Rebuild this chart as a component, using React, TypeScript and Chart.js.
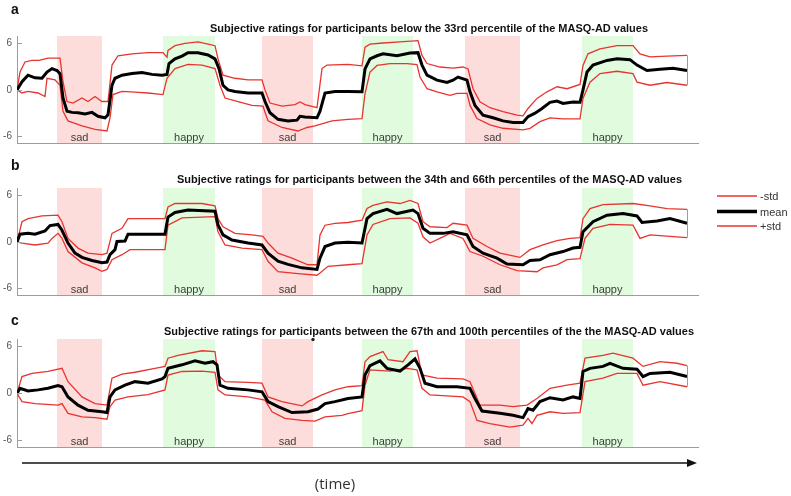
import React, { useEffect, useRef } from "react";
import { Chart, registerables } from "chart.js";

Chart.register(...registerables);

type Pts = [number, number][];

// time axis (arbitrary units) and shaded mood-induction blocks
const X_MAX = 681;
const Y_MIN = -6.85;
const Y_MAX = 6.95;
const yTicks = [-6, 0, 6];
const sadBlocks: [number, number][] = [[40, 85], [245, 296], [448, 503]];
const happyBlocks: [number, number][] = [[146, 198], [345, 396], [565, 616]];

const titleA = "Subjective ratings for participants below the 33rd percentile of the MASQ-AD values";
const titleB = "Subjective ratings for participants between the 34th and 66th percentiles of the MASQ-AD values";
const titleC = "Subjective ratings for participants between the 67th and 100th percentiles of the the MASQ-AD values";
const legendLabels = ["-std", "mean", "+std"];

// ---- panel a ----
const aMean: Pts = [[0,0],[5,1.05],[11,1.9],[18,1.55],[25,1.5],[30,2.3],[35,2.75],[40,2.5],[43,2.1],[46,-1.05],[50,-2.75],[55,-2.9],[61,-2.95],[68,-3.1],[75,-2.9],[81,-3.4],[88,-3.6],[91,-3.2],[95,0.6],[98,1.5],[105,1.9],[115,2.1],[125,2.25],[135,2.0],[145,1.9],[150,2.0],[152,3.4],[158,4.0],[165,4.35],[171,4.8],[181,4.8],[191,4.5],[198,4.0],[202,2.75],[206,0.6],[211,0],[218,-0.2],[231,-0.4],[245,-0.4],[248,-1.5],[253,-2.95],[261,-3.8],[271,-4.0],[280,-3.9],[283,-3.4],[288,-3.5],[300,-3.6],[303,-2.75],[308,-0.4],[318,-0.2],[331,-0.2],[345,-0.25],[348,2.7],[353,4.0],[360,4.4],[366,4.65],[380,4.4],[393,4.75],[401,4.8],[405,3.2],[410,1.9],[420,1.25],[430,0.95],[436,1.25],[441,1.65],[450,1.25],[453,-0.25],[458,-2.0],[466,-3.25],[476,-3.6],[486,-4.0],[496,-4.2],[506,-4.2],[511,-3.45],[518,-3.0],[525,-2.4],[533,-1.6],[540,-1.45],[546,-1.75],[556,-1.55],[563,-1.6],[566,0],[570,2.3],[576,3.2],[590,3.8],[600,4.0],[613,3.9],[620,3.2],[630,2.5],[643,2.65],[656,2.8],[670,2.5]];
const aPlus: Pts = [[0,0],[3,2.3],[8,3.6],[15,3.8],[22,3.8],[31,4.1],[43,4.1],[46,1.05],[50,-1.5],[56,-1.7],[65,-1.05],[71,-1.5],[78,-0.85],[85,-1.5],[91,-1.5],[95,3.2],[101,4.4],[115,4.65],[131,4.8],[146,4.8],[150,4.2],[151,5.1],[158,5.7],[168,6.0],[181,6.2],[191,5.9],[198,5.7],[201,4.0],[206,1.9],[218,1.5],[231,1.3],[245,1.3],[248,0],[253,-1.7],[265,-2.1],[278,-1.9],[283,-1.55],[288,-1.9],[300,-2.3],[305,2.75],[310,3.2],[331,3.3],[345,3.1],[348,5.5],[353,5.9],[366,6.05],[383,6.2],[401,6.35],[405,4.45],[410,3.4],[423,2.95],[436,2.8],[446,2.95],[451,2.7],[456,0.15],[463,-1.55],[473,-2.3],[486,-2.8],[500,-3.25],[506,-3.35],[511,-2.4],[520,-1.1],[530,-0.25],[540,0.4],[550,0.15],[563,0.7],[566,3.15],[571,4.65],[583,5.3],[600,5.7],[616,5.7],[623,4.65],[633,4.25],[650,4.35],[670,4.45]];
const aMinus: Pts = [[0,0],[5,-0.4],[11,-0.2],[21,-0.4],[28,-0.85],[30,1.5],[38,1.3],[43,0.6],[46,-2.75],[51,-4.0],[65,-4.65],[78,-5.1],[90,-5.3],[93,-3.6],[96,-0.6],[105,-0.2],[118,-0.3],[131,-0.4],[146,-0.6],[150,1.5],[158,2.75],[171,3.3],[185,3.2],[198,2.75],[203,0.6],[208,-1.05],[221,-1.5],[235,-2.0],[246,-2.1],[251,-4.0],[265,-4.85],[281,-5.3],[290,-4.85],[298,-4.65],[315,-4.0],[331,-3.8],[345,-3.7],[348,-0.5],[353,2.3],[360,3.15],[373,3.4],[390,3.4],[400,3.25],[403,1.65],[410,0.15],[420,-0.25],[433,-0.7],[440,-0.45],[450,-0.45],[453,-2.0],[460,-3.7],[473,-4.5],[486,-4.95],[506,-5.15],[513,-4.95],[523,-4.1],[533,-3.6],[546,-3.75],[563,-3.75],[566,-1.1],[573,1.0],[583,2.1],[600,2.4],[616,2.1],[620,1.0],[633,0.6],[650,0.95],[670,0.6]];

// ---- panel b ----
const bMean: Pts = [[0,0],[3,1.0],[11,1.1],[18,1.0],[28,1.4],[33,2.1],[41,2.25],[45,1.5],[51,-0.15],[58,-1.45],[65,-2.0],[75,-2.4],[85,-2.7],[90,-2.6],[93,-1.65],[98,-1.0],[100,0.05],[108,0.1],[111,1.0],[131,1.0],[148,1.0],[151,3.2],[158,3.8],[171,4.1],[198,3.95],[201,2.2],[206,0.9],[215,0.25],[231,-0.15],[245,-0.4],[251,-1.45],[261,-2.5],[271,-2.9],[285,-3.35],[300,-3.55],[303,-2.1],[308,-0.6],[318,-0.15],[331,-0.05],[345,-0.15],[350,3.0],[356,3.65],[370,4.2],[380,3.65],[396,4.1],[401,3.65],[406,1.75],[413,1.1],[426,1.1],[436,1.3],[450,0.9],[456,-0.6],[466,-1.45],[480,-2.1],[490,-2.85],[506,-2.95],[513,-2.4],[523,-2.3],[533,-1.65],[546,-1.25],[556,-0.8],[563,-0.7],[566,1.3],[576,2.6],[590,3.45],[606,3.65],[620,3.35],[625,2.5],[640,2.7],[653,3.0],[670,2.4]];
const bPlus: Pts = [[0,0],[5,2.6],[11,3.0],[25,3.35],[41,3.45],[45,2.6],[51,0.45],[61,-0.8],[71,-1.45],[85,-1.65],[90,-1.45],[95,1.1],[105,1.75],[111,3.0],[131,3.0],[148,3.0],[151,4.5],[158,4.95],[185,4.95],[198,4.65],[201,3.0],[206,1.95],[218,1.1],[235,0.9],[246,0.7],[251,-0.15],[261,-1.45],[275,-2.1],[291,-2.95],[300,-2.95],[303,0.9],[308,2.15],[318,2.4],[331,2.5],[345,2.8],[350,4.3],[356,4.7],[370,5.15],[383,4.95],[393,5.35],[401,4.95],[406,2.6],[413,1.95],[430,1.85],[436,2.4],[450,2.15],[456,0.45],[470,-0.6],[483,-1.45],[503,-2.0],[513,-1.0],[526,-0.4],[540,0.15],[553,0.45],[563,0.55],[566,3.0],[573,4.3],[586,4.8],[616,4.95],[633,4.65],[650,4.3],[670,4.2]];
const bMinus: Pts = [[0,0],[5,-0.15],[18,-0.4],[31,-0.15],[35,0.45],[41,1.1],[45,0.45],[51,-1.25],[65,-2.7],[78,-3.35],[85,-3.8],[90,-3.55],[95,-2.3],[105,-1.65],[113,-1.0],[131,-1.0],[148,-1.0],[151,2.15],[165,3.1],[198,3.25],[201,1.3],[208,-0.4],[225,-0.8],[245,-1.0],[251,-2.5],[261,-3.85],[281,-4.1],[300,-4.3],[303,-4.0],[311,-3.15],[331,-2.95],[345,-2.8],[350,0.9],[356,2.25],[373,3.0],[393,3.1],[401,2.4],[406,0.65],[413,-0.15],[426,0.65],[433,1.1],[446,0.45],[453,-1.25],[466,-1.85],[483,-2.95],[500,-3.7],[520,-3.85],[526,-3.35],[540,-2.95],[550,-2.3],[563,-2.15],[568,0.45],[576,1.75],[593,2.25],[616,2.15],[623,0.45],[633,0.9],[653,0.7],[670,0.55]];

// ---- panel c ----
const cMean: Pts = [[0,0],[3,0.65],[11,0.3],[21,0.45],[31,0.65],[41,1.0],[45,0.85],[51,-0.45],[61,-1.5],[71,-2.15],[85,-2.35],[90,-2.45],[93,-0.45],[98,0.45],[108,1.05],[118,1.5],[131,1.3],[145,1.85],[148,2.15],[151,3.2],[165,3.65],[178,4.15],[188,3.85],[196,4.05],[200,3.65],[203,1.05],[211,0.65],[231,0.45],[245,0.2],[251,-1.05],[261,-1.7],[275,-2.45],[291,-2.35],[301,-2.0],[308,-1.3],[318,-1.05],[331,-0.65],[345,-0.45],[348,2.35],[353,3.55],[363,4.15],[370,3.2],[383,2.85],[391,3.65],[398,4.4],[403,3.2],[408,1.3],[420,0.85],[440,0.85],[453,0.65],[458,-0.65],[465,-2.25],[483,-2.55],[496,-2.8],[506,-3.1],[511,-1.95],[516,-2.15],[523,-1.05],[533,-0.55],[546,-0.85],[556,-0.45],[563,-0.65],[566,2.8],[573,3.2],[586,3.45],[593,3.85],[606,3.2],[620,3.1],[626,2.15],[633,2.55],[653,2.7],[670,2.15]];
const cPlus: Pts = [[0,0],[5,2.15],[15,2.55],[31,2.8],[45,3.2],[51,1.5],[65,-0.45],[78,-1.3],[90,-1.5],[95,1.95],[105,2.45],[118,2.7],[138,3.2],[148,3.45],[151,4.5],[161,4.85],[185,5.45],[198,5.35],[201,2.35],[208,1.5],[231,1.4],[245,1.3],[251,-0.45],[265,-1.05],[285,-1.6],[291,-1.05],[305,-0.2],[318,0.45],[331,0.85],[345,1.0],[348,4.05],[353,4.7],[366,5.35],[371,4.3],[386,4.05],[393,5.35],[400,5.45],[405,2.35],[420,1.95],[446,1.85],[453,1.5],[463,-1.5],[483,-1.5],[496,-1.7],[510,-1.5],[520,-0.65],[533,0.65],[550,1.05],[563,1.3],[568,4.5],[586,4.85],[596,5.15],[616,4.5],[626,3.45],[643,4.05],[660,3.85],[670,3.55]];
const cMinus: Pts = [[0,0],[5,-1.05],[18,-1.3],[41,-1.5],[45,-1.3],[51,-2.55],[65,-3.0],[78,-3.1],[90,-3.3],[93,-1.7],[98,-0.85],[111,-0.45],[131,-0.15],[148,0.45],[151,2.35],[165,2.8],[185,2.85],[198,2.7],[201,0.45],[208,-0.2],[231,-0.45],[248,-0.85],[255,-2.35],[268,-3.2],[285,-3.45],[298,-3.55],[308,-3.0],[325,-2.8],[331,-2.6],[345,-2.2],[348,1.05],[353,3.0],[373,2.85],[390,3.2],[400,3.0],[405,0.65],[413,-0.2],[446,-0.45],[453,-1.05],[460,-3.45],[473,-3.85],[493,-4.3],[506,-4.05],[511,-3.2],[515,-3.85],[520,-2.8],[533,-2.35],[546,-2.55],[563,-2.45],[568,1.5],[586,1.95],[600,2.55],[620,2.55],[626,1.05],[643,1.5],[670,0.85]];

const FONT = '"Liberation Sans", Arial, Helvetica, sans-serif';
const RED = "#e8342f";
const AXIS = "#9c9c9c";

function Panel(props: { top: number; height: number; mean: Pts; plus: Pts; minus: Pts }) {
  const ref = useRef<HTMLCanvasElement | null>(null);
  useEffect(() => {
    if (!ref.current) return;
    const shade = {
      id: "shade",
      beforeDatasetsDraw(chart: any) {
        const { ctx, chartArea: ca, scales } = chart;
        const x = scales.x;
        ctx.save();
        const draw = (blocks: [number, number][], color: string, label: string) => {
          blocks.forEach(([s, e]) => {
            const x0 = x.getPixelForValue(s);
            const x1 = x.getPixelForValue(e);
            ctx.fillStyle = color;
            ctx.fillRect(x0, ca.top, x1 - x0, ca.bottom - ca.top);
            ctx.fillStyle = "#3c3c3c";
            ctx.font = "11px " + FONT;
            ctx.textAlign = "center";
            ctx.textBaseline = "alphabetic";
            ctx.fillText(label, (x0 + x1) / 2, ca.bottom - 2.5);
          });
        };
        draw(sadBlocks, "#fddcdc", "sad");
        draw(happyBlocks, "#e1fbdf", "happy");
        ctx.restore();
      },
      afterDraw(chart: any) {
        const { ctx, chartArea: ca, scales } = chart;
        const y = scales.y;
        const x = scales.x;
        ctx.save();
        ctx.strokeStyle = AXIS;
        ctx.lineWidth = 1;
        yTicks.forEach((v) => {
          const py = Math.round(y.getPixelForValue(v)) + 0.5;
          ctx.beginPath();
          ctx.moveTo(ca.left, py);
          ctx.lineTo(ca.left + 5, py);
          ctx.stroke();
        });
        const lp = props.plus[props.plus.length - 1];
        const lm = props.minus[props.minus.length - 1];
        const ex = Math.round(x.getPixelForValue(lp[0])) + 0.5;
        ctx.beginPath();
        ctx.moveTo(ex, y.getPixelForValue(lp[1]));
        ctx.lineTo(ex, y.getPixelForValue(lm[1]));
        ctx.stroke();
        ctx.restore();
      },
    };
    const toXY = (p: Pts) => p.map(([x, y]) => ({ x, y }));
    const chart = new Chart(ref.current, {
      type: "line",
      data: {
        datasets: [
          { label: "mean", data: toXY(props.mean), borderColor: "#000", borderWidth: 3, pointRadius: 0, tension: 0 },
          { label: "-std", data: toXY(props.minus), borderColor: RED, borderWidth: 1.3, pointRadius: 0, tension: 0 },
          { label: "+std", data: toXY(props.plus), borderColor: RED, borderWidth: 1.3, pointRadius: 0, tension: 0 },
        ],
      },
      options: {
        animation: false,
        responsive: false,
        devicePixelRatio: 1,
        layout: { padding: { top: 16, right: 2, left: 0, bottom: 0 } },
        plugins: { legend: { display: false }, tooltip: { enabled: false }, title: { display: false } },
        scales: {
          x: {
            type: "linear",
            min: 0,
            max: X_MAX,
            ticks: { display: false },
            grid: { display: true, drawOnChartArea: false, drawTicks: false },
            border: { display: true, color: AXIS, width: 1 },
            afterFit: (s: any) => {
              s.height = 3;
              s.paddingLeft = 0;
              s.paddingRight = 0;
            },
          },
          y: {
            type: "linear",
            min: Y_MIN,
            max: Y_MAX,
            afterBuildTicks: (s: any) => {
              s.ticks = yTicks.map((v) => ({ value: v }));
            },
            ticks: { color: "#555", font: { size: 10, family: FONT }, padding: 5 },
            grid: { display: true, drawOnChartArea: false, drawTicks: false },
            border: { display: true, color: AXIS, width: 1 },
            afterFit: (s: any) => {
              s.width = 17;
              s.paddingTop = 0;
              s.paddingBottom = 0;
            },
          },
        },
      },
      plugins: [shade],
    } as any);
    return () => chart.destroy();
  }, []);
  return (
    <canvas
      ref={ref}
      width={700}
      height={props.height}
      style={{ position: "absolute", left: 0, top: props.top, width: 700, height: props.height }}
    />
  );
}

export default function App() {
  const legendY = [196, 211.5, 226];
  return (
    <div style={{ position: "absolute", left: 0, top: 0, width: 791, height: 496, background: "#fff", overflow: "hidden" }}>
      <Panel top={20} height={126} mean={aMean} plus={aPlus} minus={aMinus} />
      <Panel top={172} height={126} mean={bMean} plus={bPlus} minus={bMinus} />
      <Panel top={323} height={127} mean={cMean} plus={cPlus} minus={cMinus} />
      <svg width={791} height={496} style={{ position: "absolute", left: 0, top: 0, pointerEvents: "none" }}>
        <g fontFamily={FONT} fontWeight="bold" fontSize="14" fill="#111">
          <text x={11} y={13.5}>a</text>
          <text x={11} y={169.5}>b</text>
          <text x={11} y={324.5}>c</text>
        </g>
        <g fontFamily={FONT} fontWeight="bold" fontSize="10" fill="#111" textAnchor="middle">
          <text x={429} y={32} textLength={438} lengthAdjust="spacingAndGlyphs">{titleA}</text>
          <text x={429.5} y={183} textLength={505} lengthAdjust="spacingAndGlyphs">{titleB}</text>
          <text x={429} y={335} textLength={530} lengthAdjust="spacingAndGlyphs">{titleC}</text>
        </g>
        <circle cx={313} cy={339.5} r={1.7} fill="#222" />
        {legendLabels.map((lab, i) => (
          <g key={lab}>
            <line x1={717} x2={757} y1={legendY[i]} y2={legendY[i]} stroke={i === 1 ? "#000" : RED} strokeWidth={i === 1 ? 3.5 : 1.3} />
            <text x={760} y={legendY[i] + 4} fontFamily={FONT} fontSize="11" fill="#333">{lab}</text>
          </g>
        ))}
        <line x1={22} x2={690} y1={463} y2={463} stroke="#111" strokeWidth={1.3} />
        <polygon points="687,459 697,463 687,467" fill="#111" />
        <text x={335} y={489} textAnchor="middle" fontFamily='"Open Sans", "Noto Sans", sans-serif' fontSize="15" fill="#333">(time)</text>
      </svg>
    </div>
  );
}
